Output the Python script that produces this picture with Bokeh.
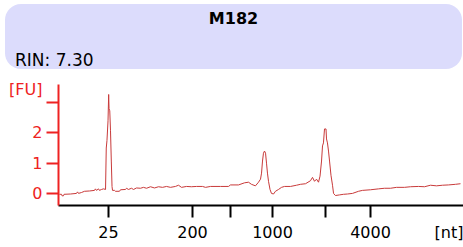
from bokeh.plotting import figure
from bokeh.models import Div, FixedTicker, Range1d
from bokeh.layouts import column
from bokeh.embed import file_html
from bokeh.resources import INLINE

# ---- data ----
sample_name = "M182"
rin_text = "RIN: 7.30"

time_s = [19.12, 19.38, 19.44, 19.62, 19.69, 20.5, 21.25, 21.38, 21.5, 21.88, 22.25, 22.88,
          23.5, 23.62, 23.75, 24.0, 24.12, 24.38, 24.62, 24.88,
          24.97, 25.06, 25.19, 25.27, 25.32, 25.41, 25.5, 25.6, 25.69, 25.75,
          26.0, 26.12, 26.62, 26.75, 27.38, 27.5, 27.75, 28.12, 28.38, 28.75, 29.25, 29.62,
          30.0, 30.5, 31.0, 31.5, 32.0, 32.5, 33.0, 33.62, 34.0, 34.38, 35.0, 35.62, 36.25,
          37.0, 37.38, 38.0, 39.25, 40.25, 40.5, 41.5, 42.25, 42.75, 43.12, 43.62,
          44.0, 44.25, 44.38, 44.5, 44.62, 44.75, 44.88, 45.0, 45.12, 45.25, 45.44, 45.62,
          45.88, 46.12, 46.5, 46.88, 47.25, 48.0, 48.75, 49.25, 49.88, 50.5, 50.75, 51.0,
          51.25, 51.5, 51.69, 51.88, 52.0, 52.12, 52.25, 52.44, 52.5, 52.62, 52.75, 52.88,
          53.06, 53.25, 53.38, 53.62, 54.12, 54.62, 55.12, 55.75, 56.5, 57.0, 58.0, 59.0,
          59.75, 60.5, 61.25, 62.25, 63.0, 64.0, 64.75, 65.5, 66.25, 67.0, 67.75, 68.62, 69.25]
fluorescence = [-0.03, -0.03, -0.08, -0.08, -0.03, -0.02, 0.0, 0.05, 0.0, 0.03, 0.07, 0.08,
                0.1, 0.15, 0.1, 0.15, 0.1, 0.13, 0.15, 0.13,
                1.5, 1.75, 2.4, 3.27, 2.8, 2.73, 2.07, 1.07, 0.23, 0.1,
                0.1, 0.07, 0.07, 0.12, 0.13, 0.17, 0.13, 0.17, 0.13, 0.18, 0.17, 0.2,
                0.17, 0.22, 0.18, 0.22, 0.2, 0.23, 0.2, 0.23, 0.27, 0.2, 0.23, 0.22, 0.23,
                0.23, 0.2, 0.23, 0.23, 0.23, 0.28, 0.28, 0.35, 0.37, 0.3, 0.25,
                0.37, 0.47, 0.67, 1.07, 1.33, 1.4, 1.33, 1.0, 0.67, 0.4, 0.13, 0.0,
                -0.02, 0.07, 0.13, 0.2, 0.23, 0.23, 0.27, 0.3, 0.32, 0.42, 0.53, 0.4,
                0.47, 0.37, 0.57, 1.07, 1.57, 1.67, 2.13, 2.13, 1.8, 1.67, 1.4, 1.07,
                0.6, 0.27, 0.0, -0.07, -0.05, -0.03, -0.02, 0.0, 0.07, 0.1, 0.12, 0.15,
                0.17, 0.17, 0.2, 0.2, 0.22, 0.23, 0.22, 0.27, 0.25, 0.27, 0.28, 0.3, 0.32]

# ladder ticks (tick marks) and labelled positions
x_mark_pos = [25.25, 35.75, 40.5, 45.75, 52.375, 58.0]
x_label_pos = [25.25, 35.75, 45.75, 58.0, 69.44]
x_label_text = ["25", "200", "1000", "4000", "[nt]"]
y_mark_pos = [0, 1, 2, 3]
y_label_pos = [0, 1, 2, 3.43]
y_label_text = ["0", "1", "2", "[FU]"]

RED = "#ee2222"
TRACE = "#c83a3a"
FONT = "DejaVu Sans"

header = Div(
    width=455, height=60,
    text=(
        '<div style="position:relative;left:0px;top:-1px;width:457px;height:65px;'
        'background:#dcdcfc;border-radius:16px;font-family:\'DejaVu Sans\';color:#000;">'
        '<div style="position:absolute;left:0;top:7px;width:457px;text-align:center;'
        f'font-size:16px;line-height:16px;font-weight:bold;">{sample_name}</div>'
        '<div style="position:absolute;left:10px;top:48px;font-size:17px;line-height:17px;'
        f'white-space:nowrap;">{rin_text}</div>'
        '</div>'
    ),
)

p = figure(width=463, height=174, output_backend="svg", toolbar_location=None,
           x_range=Range1d(19, 69.625), y_range=Range1d(-0.4, 3.6),
           min_border_left=58, min_border_right=0, min_border_top=14, min_border_bottom=35)
p.outline_line_color = None
p.grid.visible = False
p.background_fill_color = "white"
p.border_fill_color = "white"

p.line(time_s, fluorescence, line_color=TRACE, line_width=1)

xa = p.xaxis[0]
xa.ticker = FixedTicker(ticks=x_label_pos, minor_ticks=x_mark_pos)
xa.major_label_overrides = {t: l for t, l in zip(x_label_pos, x_label_text)}
xa.axis_line_color = "black"
xa.axis_line_width = 2
xa.major_tick_line_color = None
xa.major_tick_in = 0
xa.major_tick_out = 12
xa.minor_tick_line_color = "black"
xa.minor_tick_line_width = 2
xa.minor_tick_in = 0
xa.minor_tick_out = 12
xa.major_label_text_font = FONT
xa.major_label_text_font_size = "16px"
xa.major_label_text_color = "black"
xa.major_label_standoff = 5

ya = p.yaxis[0]
ya.ticker = FixedTicker(ticks=y_label_pos, minor_ticks=y_mark_pos)
ya.major_label_overrides = {t: l for t, l in zip(y_label_pos, y_label_text)}
ya.axis_line_color = RED
ya.axis_line_width = 2
ya.major_tick_line_color = None
ya.major_tick_in = 0
ya.major_tick_out = 12
ya.minor_tick_line_color = RED
ya.minor_tick_line_width = 2
ya.minor_tick_in = 0
ya.minor_tick_out = 12
ya.major_label_text_font = FONT
ya.major_label_text_font_size = "16px"
ya.major_label_text_color = RED
ya.major_label_standoff = 4

layout = column(header, p, spacing=0)
open("out.html", "w").write(file_html(layout, INLINE))
